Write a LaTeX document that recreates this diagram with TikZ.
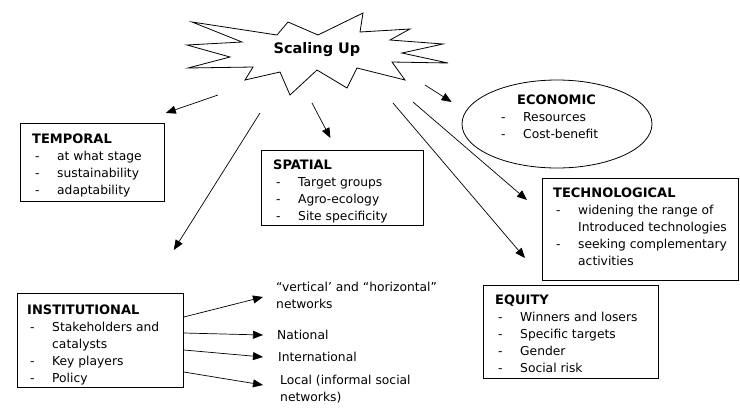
\documentclass[tikz,border=0pt]{standalone}
\usepackage{fontspec}
\setmainfont{DejaVu Sans}
\usetikzlibrary{arrows.meta,calc,shapes.geometric}
% list bullet: a dash followed by a fixed indent
\newcommand{\bul}{\makebox[25pt][l]{\hspace{3pt}-}}
\newcommand{\cont}{\hspace*{25pt}}
\newcommand{\boxtitle}[1]{{\fontsize{13}{16.8}\selectfont\bfseries #1}}
\begin{document}
\begin{tikzpicture}[x=1pt,y=-1pt,
  font=\fontsize{12.3}{16.8}\selectfont,
  boxframe/.style={draw, line width=0.8pt, inner sep=0pt, anchor=north west},
  boxtext/.style={inner sep=0pt, anchor=north west, align=left},
  link/.style={line width=0.7pt, -{Triangle[length=10pt,width=8pt]}},
  netlabel/.style={inner sep=0pt, align=left, font=\fontsize{12.3}{17}\selectfont},
]
\useasboundingbox (0,0) rectangle (740,408);

% central burst
\draw[line width=0.8pt, line join=miter]
  (192,22) -- (277,35) -- (288,22) -- (318,35) -- (363,13) -- (360,32)
  -- (410,29) -- (390,40) -- (443,44) -- (402,53) -- (448,63) -- (392,62)
  -- (405,80) -- (357,68) -- (347,88) -- (317,70) -- (290,95) -- (280,72)
  -- (245,80) -- (253,67) -- (188,68) -- (230,57) -- (187,45) -- (242,42) -- cycle;
\node[font=\fontsize{14.5}{16}\selectfont\bfseries] (scaling) at (317,50) {Scaling Up};

% frames
\node[boxframe, minimum width=144pt, minimum height=78pt] (temporal) at (20,123) {};
\node[boxframe, minimum width=162pt, minimum height=75pt] (spatial) at (261,150) {};
\node[draw, ellipse, line width=0.8pt, minimum width=190pt, minimum height=88pt] (economic) at (557,124) {};
\node[boxframe, minimum width=196pt, minimum height=102pt] (tech) at (542,178) {};
\node[boxframe, minimum width=175pt, minimum height=93pt] (equity) at (483,285) {};
\node[boxframe, minimum width=166pt, minimum height=94pt] (inst) at (17,293) {};

% frame contents
\node[boxtext] (temporaltext) at (32,134)
  {\boxtitle{TEMPORAL}\\ \bul at what stage\\ \bul sustainability\\ \bul adaptability};
\node[boxtext] (spatialtext) at (273,160)
  {\boxtitle{SPATIAL}\\ \bul Target groups\\ \bul Agro-ecology\\ \bul Site specificity};
\node[boxtext] (economictext) at (498,95)
  {\hspace*{19pt}\boxtitle{ECONOMIC}\\ \bul Resources\\ \bul Cost-benefit};
\node[boxtext] (techtext) at (553,188)
  {\boxtitle{TECHNOLOGICAL}\\ \bul widening the range of\\ \cont Introduced technologies\\
   \bul seeking complementary\\ \cont activities};
\node[boxtext] (equitytext) at (495,295)
  {\boxtitle{EQUITY}\\ \bul Winners and losers\\ \bul Specific targets\\ \bul Gender\\ \bul Social risk};
\node[boxtext] (insttext) at (27,305)
  {\boxtitle{INSTITUTIONAL}\\ \bul Stakeholders and\\ \cont catalysts\\ \bul Key players\\ \bul Policy};

% network labels
\node[netlabel, anchor=north west] (vertical) at (276,282) {“vertical’ and “horizontal”\\ networks};
\node[netlabel, anchor=west] (national) at (277,335) {National};
\node[netlabel, anchor=west] (international) at (278,357) {International};
\node[netlabel, anchor=north west] (local) at (280,375) {Local (informal social\\ networks)};

% arrows from the burst
\coordinate (fromT) at (218,95);
\coordinate (fromI) at (260,113);
\coordinate (fromS) at (312,103);
\coordinate (fromE) at (425,85);
\coordinate (fromTe) at (413,102);
\coordinate (fromQ) at (393,103);
\draw[link] (fromT) -- ($(temporal.north east)+(1,-10)$);
\draw[link] (fromI) -- ($(inst.north east)+(-10,-43)$);
\draw[link] (fromS) -- ($(spatial.north)+(-12,-12)$);
\draw[link] (fromE) -- ($(economic.west)+(-10,-22)$);
\draw[link] (fromTe) -- ($(tech.north west)+(-15,22)$);
\draw[link] (fromQ) -- ($(equity.north west)+(42,-27)$);

% arrows from the institutional frame
\draw[link] ($(inst.north east)+(0,24)$) -- ($(vertical.north west)+(-13,15)$);
\draw[link] ($(inst.north east)+(0,40)$) -- ($(national.west)+(-14,0)$);
\draw[link] ($(inst.north east)+(0,57)$) -- ($(international.west)+(-15,0)$);
\draw[link] ($(inst.north east)+(0,79)$) -- ($(local.north west)+(-17,10)$);
\end{tikzpicture}
\end{document}
